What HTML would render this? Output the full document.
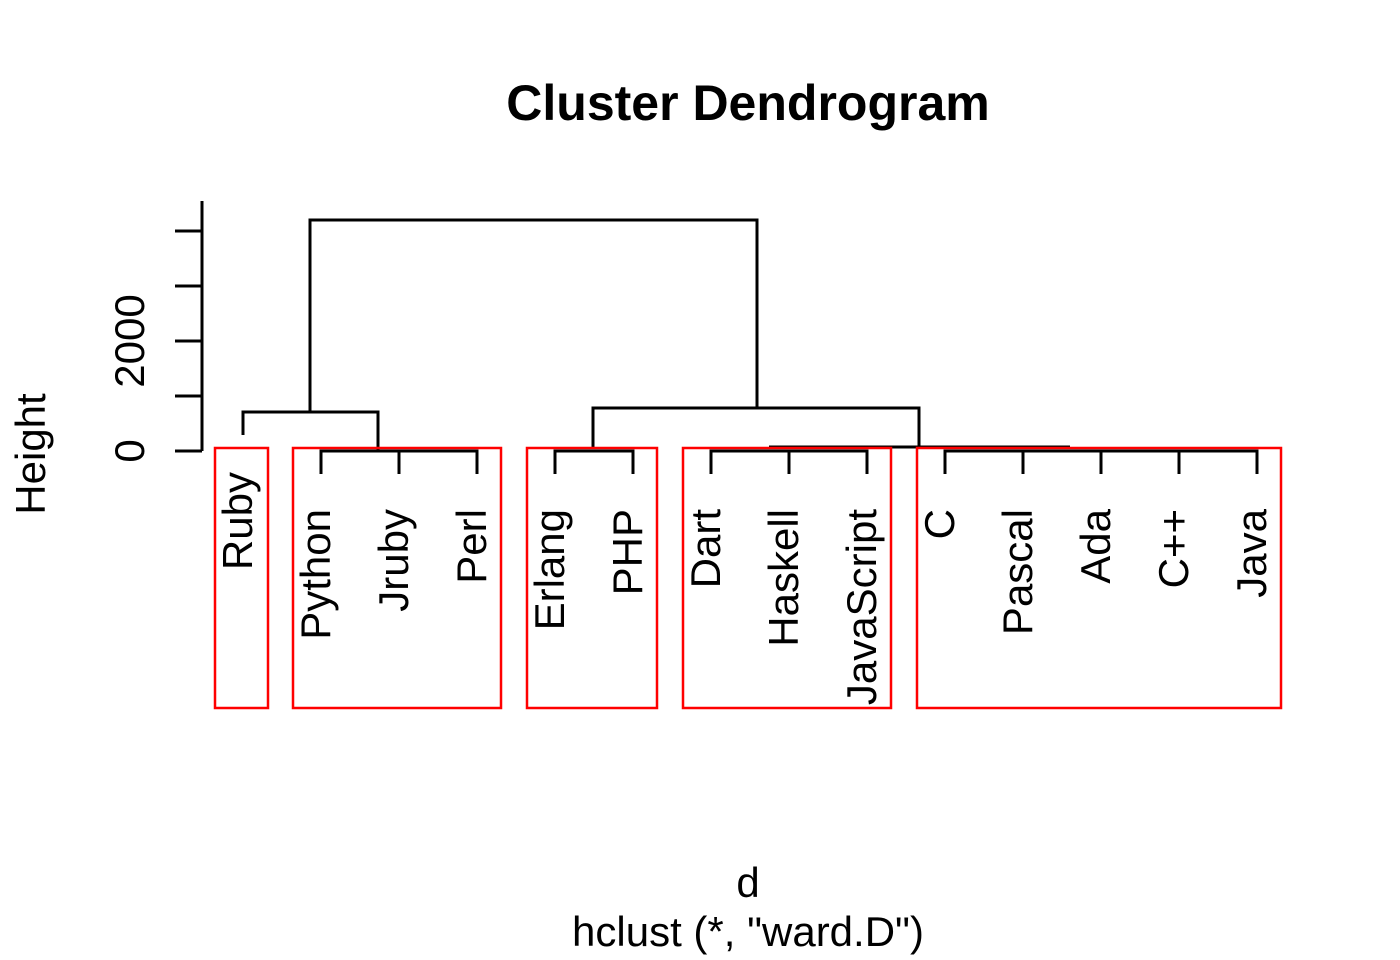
<!DOCTYPE html>
<html><head><style>body{margin:0;background:#fff}svg{display:block}</style></head><body>
<svg width="1400" height="960" xmlns="http://www.w3.org/2000/svg" font-family="Liberation Sans, Arial, sans-serif">
<text x="748" y="120" font-size="50" font-weight="bold" text-anchor="middle">Cluster Dendrogram</text>
<g stroke="#000" stroke-width="3" fill="none" stroke-linecap="butt">
<path d="M202 201V451M175 451H202M175 396H202M175 341H202M175 286H202M175 231H202"/>
<path d="M243 435V412H378V451M310 412V220H757V408M593 448V408H919V448"/>
<path d="M321 474V451H477V474M399 451V474M555 474V451H633V474M711 474V451H867V474M789 451V474M945 474V451H1257V474M1023 451V474M1101 451V474M1179 451V474M769 447H1070"/>
</g>
<g stroke="#f00" stroke-width="2.5" fill="none">
<rect x="215" y="448" width="53" height="260"/>
<rect x="293" y="448" width="208" height="260"/>
<rect x="527" y="448" width="130" height="260"/>
<rect x="683" y="448" width="208" height="260"/>
<rect x="917" y="448" width="364" height="260"/>
</g>
<g font-size="42" text-anchor="middle">
<text transform="translate(144,451) rotate(-90)">0</text>
<text transform="translate(144,341) rotate(-90)">2000</text>
<text transform="translate(45,454) rotate(-90)">Height</text>
</g>
<g font-size="42" text-anchor="end">
<text transform="translate(252,472) rotate(-90)">Ruby</text>
<text transform="translate(330,509) rotate(-90)">Python</text>
<text transform="translate(408,509) rotate(-90)">Jruby</text>
<text transform="translate(486,509) rotate(-90)">Perl</text>
<text transform="translate(564,509) rotate(-90)">Erlang</text>
<text transform="translate(642,509) rotate(-90)">PHP</text>
<text transform="translate(720,509) rotate(-90)">Dart</text>
<text transform="translate(798,509) rotate(-90)">Haskell</text>
<text transform="translate(876,509) rotate(-90)">JavaScript</text>
<text transform="translate(954,509) rotate(-90)">C</text>
<text transform="translate(1032,509) rotate(-90)">Pascal</text>
<text transform="translate(1110,509) rotate(-90)">Ada</text>
<text transform="translate(1188,509) rotate(-90)">C++</text>
<text transform="translate(1266,509) rotate(-90)">Java</text>
</g>
<text x="748" y="897" font-size="42" text-anchor="middle">d</text>
<text x="748" y="946" font-size="42" text-anchor="middle">hclust (*, "ward.D")</text>
</svg>
</body></html>
